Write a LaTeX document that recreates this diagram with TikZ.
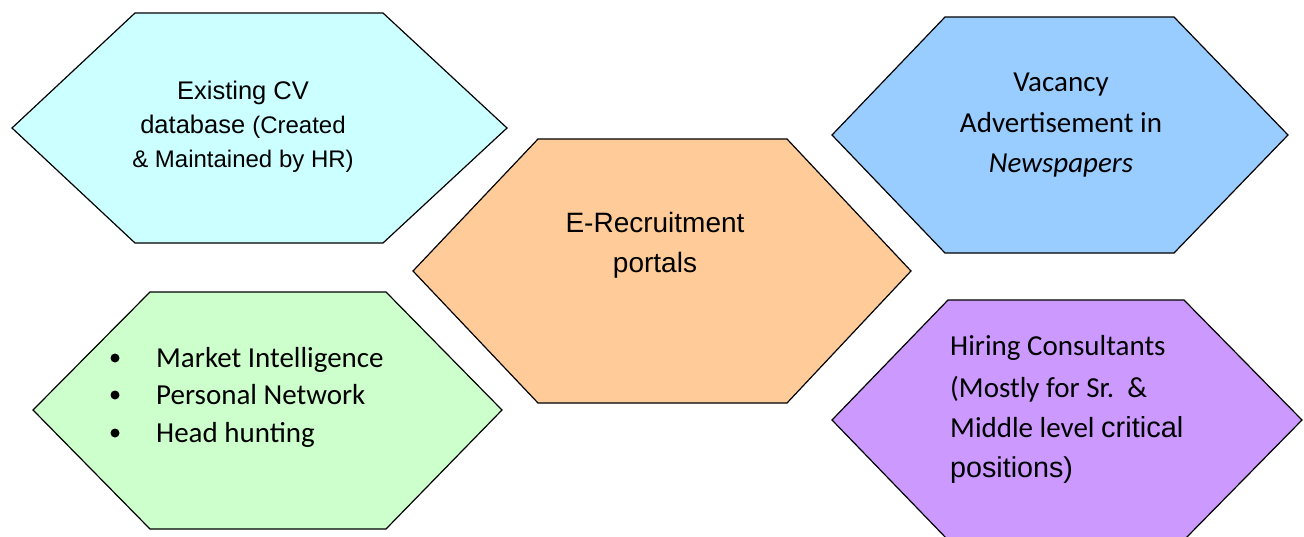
\documentclass[tikz,border=0pt]{standalone}
\usepackage{fontspec}
\setmainfont{Liberation Sans}
\newfontfamily\calibri{Carlito}
\newfontfamily\arial{Liberation Sans}
\definecolor{hcyan}{HTML}{CCFFFF}
\definecolor{hblue}{HTML}{99CCFF}
\definecolor{horange}{HTML}{FFCC99}
\definecolor{hgreen}{HTML}{CCFFCC}
\definecolor{hpurple}{HTML}{CC99FF}
\newcommand{\fs}[1]{\fontsize{#1}{#1}\selectfont}
\begin{document}
\begin{tikzpicture}[x=1pt,y=-1pt,
  hexa/.style={draw=black, line width=1.2pt, line join=miter},
  ctxt/.style={anchor=base, inner sep=0pt},
  ltxt/.style={anchor=base west, inner sep=0pt}]
\useasboundingbox (0,0) rectangle (1304,536);
% hexagons
\path[hexa, fill=hcyan] (12,128) -- (135,13) -- (383,13) -- (507,128) -- (383,243) -- (135,243) -- cycle;
\path[hexa, fill=hblue] (832,135) -- (945,17) -- (1174,17) -- (1288,135) -- (1174,253) -- (945,253) -- cycle;
\path[hexa, fill=horange] (413,271) -- (538,139) -- (787,139) -- (911,271) -- (787,403) -- (538,403) -- cycle;
\path[hexa, fill=hgreen] (33,410) -- (150,292) -- (386,292) -- (502,410) -- (386,529) -- (150,529) -- cycle;
\path[hexa, fill=hpurple] (832,420) -- (948,300) -- (1184,300) -- (1302,420) -- (1184,540) -- (948,540) -- cycle;
% hex 1 text
\node[ctxt] (cv1) at (243,99) {\arial\fs{25.5}Existing CV};
\node[ctxt] (cv2) at (243,133) {\arial\fs{25.5}database {\fs{24}(Created}};
\node[ctxt] (cv3) at (243,167) {\arial\fs{24}\& Maintained by HR)};
% hex 2 text
\node[ctxt] (va1) at (1061,91) {\calibri\fs{29}Vacancy};
\node[ctxt] (va2) at (1061,132) {\calibri\fs{29}Advertisement in};
\node[ctxt] (va3) at (1061,172) {\calibri\fs{29}\itshape Newspapers};
% hex 3 text
\node[ctxt] (er1) at (655,232) {\arial\fs{28}E-Recruitment};
\node[ctxt] (er2) at (655,272) {\arial\fs{28}portals};
% hex 4 text
\fill (115,358) circle (4.5);
\fill (115,395) circle (4.5);
\fill (115,433) circle (4.5);
\node[ltxt] (mi1) at (156,367) {\calibri\fs{29}Market Intelligence};
\node[ltxt] (mi2) at (156,404) {\calibri\fs{29}Personal Network};
\node[ltxt] (mi3) at (156,442) {\calibri\fs{29}Head hunting};
% hex 5 text
\node[ltxt] (hc1) at (950,355) {\calibri\fs{29}Hiring Consultants};
\node[ltxt] (hc2) at (950,397) {\calibri\fs{29}(Mostly for Sr.\ \ \&};
\node[ltxt] (hc3) at (950,437) {\calibri\fs{29}Middle level {\arial critical}};
\node[ltxt] (hc4) at (950,477) {\arial\fs{28.7}positions)};
\end{tikzpicture}
\end{document}
